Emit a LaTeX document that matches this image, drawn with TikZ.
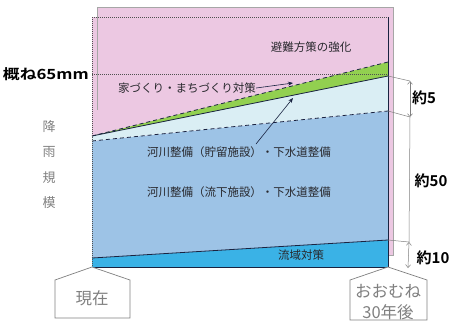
\documentclass[tikz,border=0pt]{standalone}
\usepackage{fontspec}
\setmainfont{Noto Sans CJK JP}[BoldFont={Noto Sans CJK JP Bold}]
\usetikzlibrary{arrows.meta}
\definecolor{pinkbg}{RGB}{236,200,226}
\definecolor{greenband}{RGB}{146,208,80}
\definecolor{lightblue}{RGB}{218,238,244}
\definecolor{midblue}{RGB}{157,195,230}
\definecolor{brightblue}{RGB}{58,178,230}
\definecolor{txt}{RGB}{40,40,45}
\definecolor{navy}{RGB}{25,35,65}
\definecolor{axisgray}{RGB}{80,80,80}
\begin{document}
\begin{tikzpicture}[x=1pt,y=-1pt,
  lbl/.style={font=\fontsize{11.5}{12}\selectfont, text=txt, inner sep=0pt},
  dimlbl/.style={font=\bfseries\fontsize{15}{16}\selectfont, text=black, inner sep=0pt},
  sidelbl/.style={font=\fontsize{13}{14}\selectfont, text=gray, inner sep=0pt},
  tagtxt/.style={font=\fontsize{16.5}{21}\selectfont, text=gray, inner sep=0pt, align=center},
  tagshape/.style={draw=gray, line width=0.7pt, fill=white},
  ext/.style={draw=gray, line width=0.5pt},
  darr/.style={draw=gray, line width=0.5pt, {Straight Barb[length=3pt,width=5pt]}-{Straight Barb[length=3pt,width=5pt]}},
  pointer/.style={draw=navy, line width=0.6pt, -{Stealth[length=5pt,width=4pt]}},
  dotline/.style={draw=axisgray, line width=1pt, dash pattern=on 1pt off 1pt},
  boundary/.style={draw=navy, line width=0.8pt},
  dashbound/.style={draw=navy, line width=0.8pt, dash pattern=on 4pt off 3pt},
]
\useasboundingbox (0,0) rectangle (456,322);
\fill[white] (0,0) rectangle (456,322);
% chart corner coordinates
\coordinate (BL) at (92,267);
\coordinate (BR) at (388,267);
\coordinate (TL) at (92,17);
\coordinate (TR) at (388,17);
\coordinate (b1L) at (92,258);
\coordinate (b1R) at (388,240);
\coordinate (b2L) at (92,141);
\coordinate (b2R) at (388,111);
\coordinate (b3L) at (92,136);
\coordinate (b3R) at (388,76);
\coordinate (b4R) at (388,62);
% pink background rectangle
\fill[pinkbg] (97,7) rectangle (393,255);
\draw[gray!70, line width=0.5pt] (97,110) -- (97,7) -- (393,7) -- (393,255) -- (388,255);
\fill[pinkbg] (TL) rectangle (97,136);
% layers
\fill[brightblue] (BL) -- (BR) -- (b1R) -- (b1L) -- cycle;
\fill[midblue] (b1L) -- (b1R) -- (b2R) -- (b2L) -- cycle;
\fill[lightblue] (b2L) -- (b2R) -- (b3R) -- (b3L) -- cycle;
\fill[greenband] (b3L) -- (b3R) -- (b4R) -- cycle;
% boundaries
\draw[boundary] (b1L) -- (b1R);
\draw[boundary] (BL) -- (BR);
\draw[dashbound] (b2L) -- (b2R);
\draw[boundary] (b3L) -- (b3R);
\draw[dashbound] (b3L) -- (b4R);
% axes
\draw[dotline] (TL) -- (TR);
\draw[dotline] (TL) -- (BL);
\draw[dotline] (92,74) -- (388,74);
\draw[navy, line width=0.8pt] (TR) -- (BR);
% labels in chart
\node[lbl] (hinan) at (311,47) {避難方策の強化};
\node[lbl] (machi) at (187,88) {家づくり・まちづくり対策};
\node[lbl] (chozo) at (239,152) {河川整備（貯留施設）・下水道整備};
\node[lbl] (ryuka) at (239,192) {河川整備（流下施設）・下水道整備};
\node[lbl] (ryuiki) at (301,255) {流域対策};
\coordinate (machiTip) at (293,83);
\coordinate (chozoTip) at (293,98);
\draw[pointer] (machi.east) -- (machiTip);
\draw[pointer] (256,144) -- (chozoTip);
% left labels
\node[font=\bfseries\fontsize{14}{15}\selectfont, inner sep=0pt, anchor=east] (mm65) at (89,74) {\scalebox{1.2}[1]{概ね65mm}};
\node[sidelbl] (k1) at (49,127) {降};
\node[sidelbl] (k2) at (49,152) {雨};
\node[sidelbl] (k3) at (49,178) {規};
\node[sidelbl] (k4) at (49,203) {模};
% dimensions
\coordinate (e1) at (410,81);
\coordinate (e2) at (410,117);
\coordinate (e3) at (409,242);
\coordinate (e4) at (408,268);
\draw[ext] (b3R) -- (e1);
\draw[ext] (b2R) -- (e2);
\draw[ext] (b1R) -- (e3);
\draw[darr] (e1) -- (e2);
\draw[ext] (e2) -- (e3);
\draw[darr] (e3) -- (e4);
\node[dimlbl] (d5) at (424,98) {約5};
\node[dimlbl] (d50) at (431,181) {約50};
\node[dimlbl] (d10) at (433,258) {約10};
% bottom tags
\draw[tagshape] (BL) -- (130,280) -- (130,318) -- (55,318) -- (55,280) -- cycle;
\node[tagtxt] (now) at (92,298) {現在};
\draw[tagshape] (BR) -- (427,280) -- (427,320) -- (350,320) -- (350,280) -- cycle;
\node[tagtxt] (later) at (388,302) {おおむね\\30年後};
\end{tikzpicture}
\end{document}
